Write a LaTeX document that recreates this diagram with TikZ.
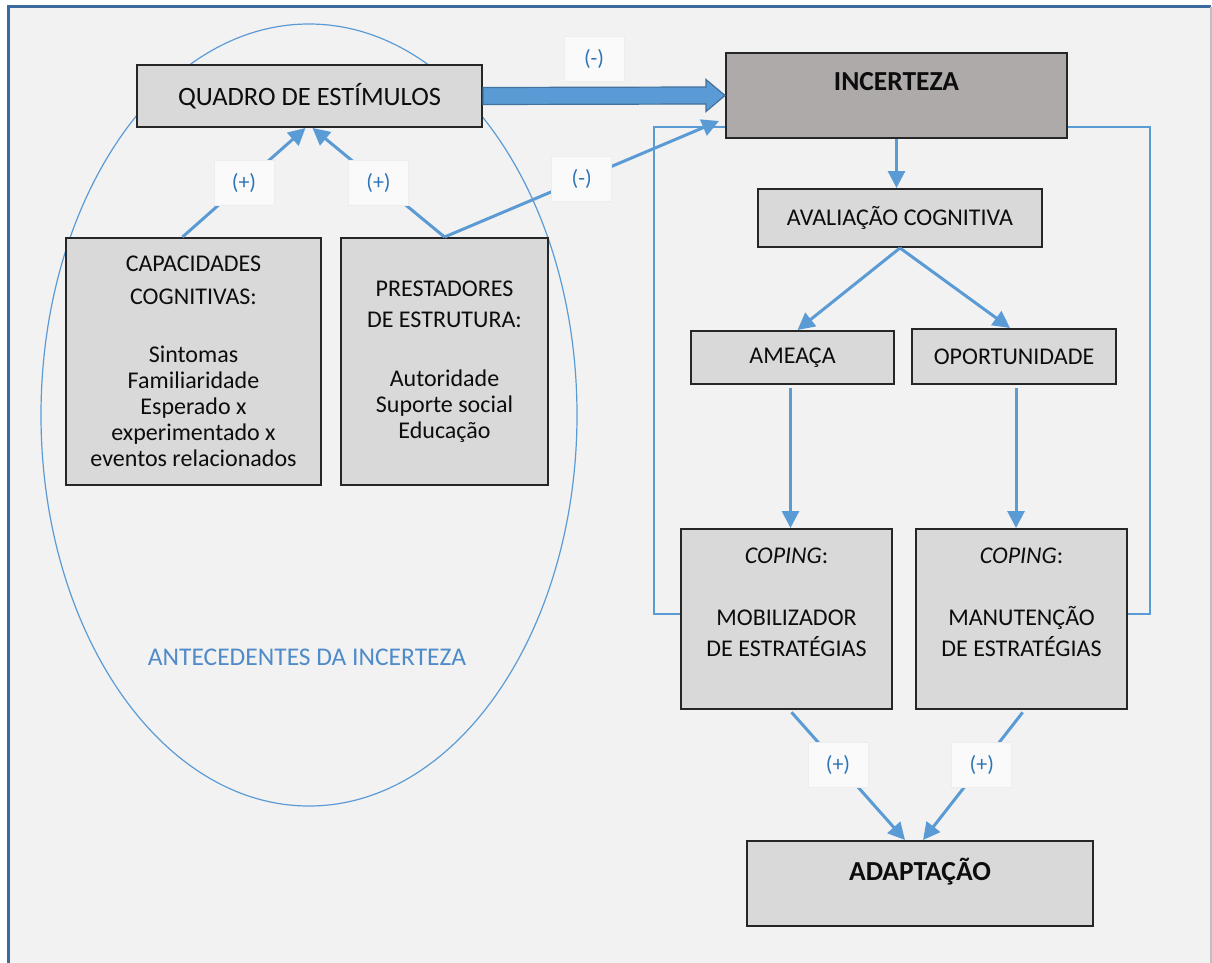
\documentclass[tikz,border=0pt]{standalone}
\usepackage{fontspec}
\setmainfont{Carlito}
\usetikzlibrary{arrows.meta,calc}
\definecolor{bgc}{HTML}{F2F2F2}
\definecolor{boxc}{HTML}{D9D9D9}
\definecolor{incc}{HTML}{AEAAAA}
\definecolor{edgec}{HTML}{262626}
\definecolor{arrc}{HTML}{5B9BD5}
\definecolor{arrdark}{HTML}{41719C}
\definecolor{framec}{HTML}{3A6B9C}
\definecolor{lblc}{HTML}{2E75B6}
\definecolor{antc}{HTML}{4F8BC9}
\definecolor{txtc}{HTML}{0D0D0D}
\begin{document}
\begin{tikzpicture}[x=1pt,y=-1pt,
  every node/.style={font=\fontsize{24}{26}\selectfont, text=txtc},
  box/.style={draw=edgec, line width=2pt, fill=boxc, align=center, inner sep=0pt},
  boldtxt/.style={font=\bfseries\fontsize{27.5}{28}\selectfont},
  lbl/.style={fill=bgc!40!white, draw=black!7, line width=0.8pt, minimum width=60pt, minimum height=45pt, text=lblc, font=\fontsize{22}{24}\selectfont, inner sep=0pt},
  arr/.style={draw=arrc, line width=3pt, -{Triangle[length=17pt,width=17pt]}},
  fb/.style={draw=arrc, line width=1.5pt},
]
\useasboundingbox (0,0) rectangle (1212,963);
\fill[white] (0,0) rectangle (1212,963);
\fill[bgc] (8,7) rectangle (1211,963);
\draw[framec, line width=3pt] (8,963) -- (8,7) -- (1211,7);
\draw[black!25, line width=1.5pt] (1211,7) -- (1211,963);

% ellipse of antecedents
\draw[arrc, line width=1.2pt] (309,415) ellipse [x radius=268, y radius=391];
\node[text=antc, font=\fontsize{25.5}{27}\selectfont] (ANT) at (307,657) {ANTECEDENTES DA INCERTEZA};

% boxes
\node[box, minimum width=345pt, minimum height=62pt, font=\fontsize{26.5}{28}\selectfont] (Q) at (309.5,96) {QUADRO DE ESTÍMULOS};
\node[box, fill=incc, minimum width=341pt, minimum height=85pt, boldtxt] (I) at (896.5,95.5) {INCERTEZA\\[0pt]\mbox{}};
\node[box, minimum width=284pt, minimum height=58pt] (AV) at (900,218) {AVALIAÇÃO COGNITIVA};
\node[box, minimum width=203pt, minimum height=53pt] (AM) at (792.5,357.5) {AMEAÇA};
\node[box, minimum width=204pt, minimum height=55pt] (OP) at (1014,356.5) {OPORTUNIDADE};
\node[box, minimum width=211pt, minimum height=180pt] (C1) at (786.5,619) {\textit{COPING}:\\[36pt]MOBILIZADOR\\[5pt]DE ESTRATÉGIAS\\[7pt]\mbox{}};
\node[box, minimum width=211pt, minimum height=180pt] (C2) at (1021.5,619) {\textit{COPING}:\\[36pt]MANUTENÇÃO\\[5pt]DE ESTRATÉGIAS\\[7pt]\mbox{}};
\node[box, minimum width=346pt, minimum height=85pt, boldtxt] (AD) at (920,883.5) {ADAPTAÇÃO\\[0pt]\mbox{}};
\node[box, minimum width=255pt, minimum height=247pt] (CA) at (193.5,361.5) {CAPACIDADES\\[7pt]COGNITIVAS:\\[32pt]Sintomas\\Familiaridade\\Esperado x\\experimentado x\\eventos relacionados};
\node[box, minimum width=207pt, minimum height=247pt] (PR) at (444.5,361.5) {PRESTADORES\\[5pt]DE ESTRUTURA:\\[33pt]Autoridade\\Suporte social\\Educação};

% big arrow
\draw[fill=arrc, draw=arrdark, line width=1.2pt, line join=miter]
  ([yshift=8.5pt]Q.east) -- ([xshift=-19pt,yshift=8.5pt]I.west) -- ([xshift=-19pt,yshift=16pt]I.west)
  -- (I.west) -- ([xshift=-19pt,yshift=-16pt]I.west) -- ([xshift=-19pt,yshift=-8.5pt]I.west)
  -- ([yshift=-8.5pt]Q.east) -- cycle;
\node[lbl] (m1) at ($(Q.east)!0.459!(I.west)+(0,-37)$) {(-)};

% feedback lines
\coordinate (fbL) at (654,127);
\coordinate (fbR) at (1150,127);
\draw[fb] ([yshift=5pt]C1.west) -| (fbL) -- (fbL -| I.west);
\draw[fb] ([yshift=5pt]C2.east) -| (fbR) -- (fbR -| I.east);

% arrows
\draw[arr] ([xshift=-11pt]CA.north) -- node[lbl] (p1) {(+)} ([xshift=-4pt]Q.south);
\draw[arr] (PR.north) -- node[lbl] (p2) {(+)} ([xshift=3pt]Q.south);
\draw[arr] (PR.north) -- node[lbl] (m2) {(-)} ([xshift=-6pt,yshift=-25.5pt]I.west);
\draw[arr] (I.south) -- (I.south |- AV.north);
\draw[arr] (AV.south) -- ([xshift=5pt]AM.north);
\draw[arr] (AV.south) -- ([xshift=-4pt]OP.north);
\draw[arr, shorten <=3pt] ([xshift=-2pt]AM.south) -- ([xshift=-2pt]AM.south |- C1.north);
\draw[arr, shorten <=3pt] ([xshift=2pt]OP.south) -- ([xshift=2pt]OP.south |- C2.north);
\draw[arr, shorten <=3pt] ([xshift=3pt]C1.south) -- node[lbl, pos=0.42] (p3) {(+)} ([xshift=-15pt]AD.north);
\draw[arr, shorten <=3pt] ([xshift=3pt]C2.south) -- node[lbl, pos=0.42] (p4) {(+)} ([xshift=3pt]AD.north);
\end{tikzpicture}
\end{document}
